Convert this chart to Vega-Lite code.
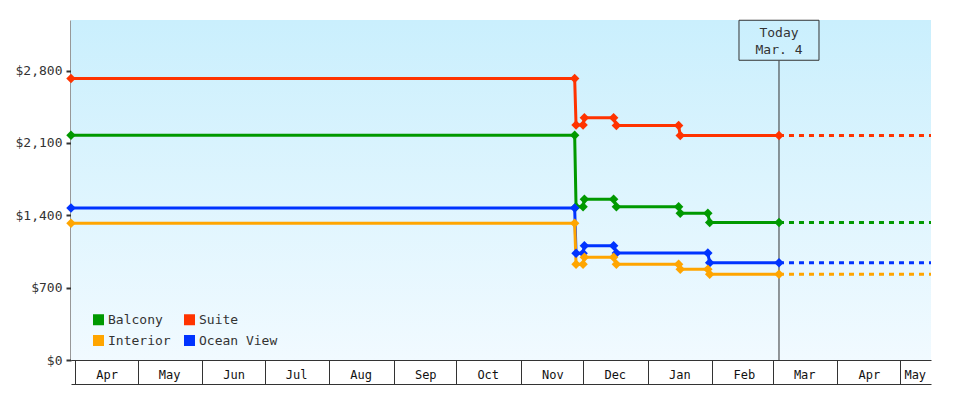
{
  "$schema": "https://vega.github.io/schema/vega-lite/v6.json",
  "width": 860,
  "height": 340,
  "autosize": {"type": "none"},
  "padding": {"left": 71, "top": 20, "right": 49, "bottom": 40},
  "background": "#ffffff",
  "config": {
    "font": "DejaVu Sans Mono",
    "view": {"stroke": null},
    "axis": {"labelFont": "DejaVu Sans Mono", "zindex": 1},
    "legend": {
      "title": null,
      "orient": "none",
      "legendX": 21,
      "legendY": 293,
      "columns": 2,
      "direction": "vertical",
      "symbolType": "square",
      "symbolSize": 121,
      "symbolStrokeWidth": 0,
      "symbolOpacity": 1,
      "labelFontSize": 13,
      "labelFont": "DejaVu Sans Mono",
      "labelColor": "#333333",
      "labelOffset": 3,
      "columnPadding": 12,
      "rowPadding": 7,
      "padding": 0
    }
  },
  "datasets": {
    "prices": [
      {"type": "Suite", "date": "2019-03-30T00:00:00Z", "price": 2725, "part": "actual"},
      {"type": "Suite", "date": "2019-11-26T21:00:00Z", "price": 2725, "part": "actual"},
      {"type": "Suite", "date": "2019-11-27T13:00:00Z", "price": 2274, "part": "actual"},
      {"type": "Suite", "date": "2019-11-30T22:00:00Z", "price": 2274, "part": "actual"},
      {"type": "Suite", "date": "2019-12-01T13:00:00Z", "price": 2345, "part": "actual"},
      {"type": "Suite", "date": "2019-12-15T14:00:00Z", "price": 2345, "part": "actual"},
      {"type": "Suite", "date": "2019-12-16T22:00:00Z", "price": 2270, "part": "actual"},
      {"type": "Suite", "date": "2020-01-15T19:00:00Z", "price": 2270, "part": "actual"},
      {"type": "Suite", "date": "2020-01-16T14:00:00Z", "price": 2172, "part": "actual"},
      {"type": "Suite", "date": "2020-03-04T00:00:00Z", "price": 2172, "part": "actual"},
      {"type": "Suite", "date": "2020-03-04T00:00:00Z", "price": 2172, "part": "projected"},
      {"type": "Suite", "date": "2020-05-16T00:00:00Z", "price": 2172, "part": "projected"},
      {"type": "Balcony", "date": "2019-03-30T00:00:00Z", "price": 2175, "part": "actual"},
      {"type": "Balcony", "date": "2019-11-26T21:00:00Z", "price": 2175, "part": "actual"},
      {"type": "Balcony", "date": "2019-11-27T13:00:00Z", "price": 1483, "part": "actual"},
      {"type": "Balcony", "date": "2019-11-30T22:00:00Z", "price": 1483, "part": "actual"},
      {"type": "Balcony", "date": "2019-12-01T13:00:00Z", "price": 1555, "part": "actual"},
      {"type": "Balcony", "date": "2019-12-15T14:00:00Z", "price": 1555, "part": "actual"},
      {"type": "Balcony", "date": "2019-12-16T22:00:00Z", "price": 1483, "part": "actual"},
      {"type": "Balcony", "date": "2020-01-15T19:00:00Z", "price": 1483, "part": "actual"},
      {"type": "Balcony", "date": "2020-01-16T14:00:00Z", "price": 1419, "part": "actual"},
      {"type": "Balcony", "date": "2020-01-29T20:00:00Z", "price": 1419, "part": "actual"},
      {"type": "Balcony", "date": "2020-01-30T17:00:00Z", "price": 1330, "part": "actual"},
      {"type": "Balcony", "date": "2020-03-04T00:00:00Z", "price": 1330, "part": "actual"},
      {"type": "Balcony", "date": "2020-03-04T00:00:00Z", "price": 1330, "part": "projected"},
      {"type": "Balcony", "date": "2020-05-16T00:00:00Z", "price": 1330, "part": "projected"},
      {"type": "Ocean View", "date": "2019-03-30T00:00:00Z", "price": 1470, "part": "actual"},
      {"type": "Ocean View", "date": "2019-11-26T21:00:00Z", "price": 1470, "part": "actual"},
      {"type": "Ocean View", "date": "2019-11-27T13:00:00Z", "price": 1032, "part": "actual"},
      {"type": "Ocean View", "date": "2019-11-30T22:00:00Z", "price": 1032, "part": "actual"},
      {"type": "Ocean View", "date": "2019-12-01T13:00:00Z", "price": 1106, "part": "actual"},
      {"type": "Ocean View", "date": "2019-12-15T14:00:00Z", "price": 1106, "part": "actual"},
      {"type": "Ocean View", "date": "2019-12-16T22:00:00Z", "price": 1035, "part": "actual"},
      {"type": "Ocean View", "date": "2020-01-29T20:00:00Z", "price": 1035, "part": "actual"},
      {"type": "Ocean View", "date": "2020-01-30T17:00:00Z", "price": 941, "part": "actual"},
      {"type": "Ocean View", "date": "2020-03-04T00:00:00Z", "price": 941, "part": "actual"},
      {"type": "Ocean View", "date": "2020-03-04T00:00:00Z", "price": 941, "part": "projected"},
      {"type": "Ocean View", "date": "2020-05-16T00:00:00Z", "price": 941, "part": "projected"},
      {"type": "Interior", "date": "2019-03-30T00:00:00Z", "price": 1323, "part": "actual"},
      {"type": "Interior", "date": "2019-11-26T21:00:00Z", "price": 1323, "part": "actual"},
      {"type": "Interior", "date": "2019-11-27T13:00:00Z", "price": 926, "part": "actual"},
      {"type": "Interior", "date": "2019-11-30T22:00:00Z", "price": 926, "part": "actual"},
      {"type": "Interior", "date": "2019-12-01T13:00:00Z", "price": 994, "part": "actual"},
      {"type": "Interior", "date": "2019-12-15T14:00:00Z", "price": 994, "part": "actual"},
      {"type": "Interior", "date": "2019-12-16T22:00:00Z", "price": 926, "part": "actual"},
      {"type": "Interior", "date": "2020-01-15T19:00:00Z", "price": 926, "part": "actual"},
      {"type": "Interior", "date": "2020-01-16T14:00:00Z", "price": 878, "part": "actual"},
      {"type": "Interior", "date": "2020-01-29T20:00:00Z", "price": 878, "part": "actual"},
      {"type": "Interior", "date": "2020-01-30T17:00:00Z", "price": 829, "part": "actual"},
      {"type": "Interior", "date": "2020-03-04T00:00:00Z", "price": 829, "part": "actual"},
      {"type": "Interior", "date": "2020-03-04T00:00:00Z", "price": 829, "part": "projected"},
      {"type": "Interior", "date": "2020-05-16T00:00:00Z", "price": 829, "part": "projected"}
    ],
    "today": [
      {"date": "2020-03-04T00:00:00Z", "label": "Today\nMar. 4"}
    ]
  },
  "resolve": {"axis": {"x": "independent"}},
  "layer": [
    {
      "data": {"values": [{"bg": 1}]},
      "mark": {
        "type": "rect",
        "fill": {
          "gradient": "linear", "x1": 0, "y1": 0, "x2": 0, "y2": 1,
          "stops": [{"offset": 0, "color": "#caeffd"}, {"offset": 1, "color": "#f1faff"}]
        }
      },
      "encoding": {
        "x": {"datum": {"year": 2019, "month": "mar", "date": 30, "utc": true}, "type": "temporal", "axis": null},
        "x2": {"datum": {"year": 2020, "month": "may", "date": 16, "utc": true}},
        "y": {"datum": 0, "type": "quantitative", "title": null},
        "y2": {"datum": 3290}
      }
    },
    {
      "data": {"name": "today"},
      "mark": {"type": "rule", "color": "#333333", "strokeWidth": 1},
      "encoding": {
        "x": {"field": "date", "type": "temporal", "axis": null},
        "y": {"datum": 0, "type": "quantitative", "title": null},
        "y2": {"datum": 2896}
      }
    },
    {
      "data": {"name": "today"},
      "mark": {"type": "point", "shape": "M-1,-0.5L1,-0.5L1,0.5L-1,0.5Z", "size": 6400, "filled": false, "color": "#333333", "strokeWidth": 1, "opacity": 1},
      "encoding": {
        "x": {"field": "date", "type": "temporal", "axis": null},
        "y": {"datum": 3094, "type": "quantitative", "title": null}
      }
    },
    {
      "data": {"name": "today"},
      "mark": {"type": "text", "lineBreak": "\n", "fontSize": 13, "lineHeight": 17, "color": "#333333", "baseline": "middle", "align": "center", "dy": -7.5, "font": "DejaVu Sans Mono"},
      "encoding": {
        "x": {"field": "date", "type": "temporal", "axis": null},
        "y": {"datum": 3094, "type": "quantitative", "title": null},
        "text": {"field": "label"}
      }
    },
    {
      "data": {"name": "prices"},
      "transform": [{"filter": "datum.part == 'actual'"}],
      "mark": {"type": "line", "strokeWidth": 3, "interpolate": "linear"},
      "encoding": {
        "x": {
          "field": "date", "type": "temporal",
          "scale": {"type": "utc", "domain": [{"year": 2019, "month": "mar", "date": 30, "utc": true}, {"year": 2020, "month": "may", "date": 16, "utc": true}]},
          "axis": {
            "orient": "bottom",
            "title": null,
            "grid": false,
            "values": [
              {"year": 2019, "month": "apr", "date": 1, "utc": true},
              {"year": 2019, "month": "may", "date": 1, "utc": true},
              {"year": 2019, "month": "jun", "date": 1, "utc": true},
              {"year": 2019, "month": "jul", "date": 1, "utc": true},
              {"year": 2019, "month": "aug", "date": 1, "utc": true},
              {"year": 2019, "month": "sep", "date": 1, "utc": true},
              {"year": 2019, "month": "oct", "date": 1, "utc": true},
              {"year": 2019, "month": "nov", "date": 1, "utc": true},
              {"year": 2019, "month": "dec", "date": 1, "utc": true},
              {"year": 2020, "month": "jan", "date": 1, "utc": true},
              {"year": 2020, "month": "feb", "date": 1, "utc": true},
              {"year": 2020, "month": "mar", "date": 1, "utc": true},
              {"year": 2020, "month": "apr", "date": 1, "utc": true},
              {"year": 2020, "month": "may", "date": 1, "utc": true}
            ],
            "format": "%b",
            "tickSize": 24,
            "tickWidth": 1,
            "tickColor": "#333333",
            "domainColor": "#333333",
            "domainWidth": 1,
            "labelAlign": "center",
            "labelBaseline": "middle",
            "labelPadding": -10,
            "labelOffset": {"condition": {"test": "utcmonth(datum.value) == 4 && utcyear(datum.value) == 2020", "value": 15}, "value": 31.5},
            "labelFontSize": 12,
            "labelColor": "#111111",
            "labelOverlap": false,
            "labelFlush": false,
            "labelBound": false
          }
        },
        "y": {
          "field": "price", "type": "quantitative",
          "scale": {"domain": [0, 3290], "nice": false, "zero": true},
          "axis": {
            "title": null,
            "grid": false,
            "values": [0, 700, 1400, 2100, 2800],
            "format": "$,d",
            "tickSize": 5,
            "tickWidth": 2,
            "tickColor": "#333333",
            "domainColor": "#333333",
            "domainWidth": 2,
            "labelPadding": 4,
            "labelFontSize": 13,
            "labelColor": "#333333"
          }
        },
        "color": {
          "field": "type", "type": "nominal",
          "scale": {"domain": ["Balcony", "Interior", "Suite", "Ocean View"], "range": ["#009900", "#ffa500", "#ff3300", "#0033ff"]},
          "legend": {
            "encode": {"symbols": {"update": {"fill": {"scale": "color", "field": "value"}, "stroke": {"value": "transparent"}, "strokeWidth": {"value": 0}, "opacity": {"value": 1}}}}
          }
        }
      }
    },
    {
      "data": {"name": "prices"},
      "transform": [{"filter": "datum.part == 'projected'"}],
      "mark": {"type": "line", "strokeWidth": 3, "strokeDash": [5, 5]},
      "encoding": {
        "x": {"field": "date", "type": "temporal", "axis": null},
        "y": {"field": "price", "type": "quantitative", "title": null},
        "color": {"field": "type", "type": "nominal"}
      }
    },
    {
      "data": {"name": "prices"},
      "transform": [{"filter": "datum.part == 'actual'"}],
      "mark": {"type": "point", "shape": "diamond", "filled": true, "size": 90, "opacity": 1},
      "encoding": {
        "x": {
          "field": "date", "type": "temporal",
          "axis": {"orient": "bottom", "offset": 24, "domain": true, "ticks": false, "labels": false, "grid": false, "title": null, "domainColor": "#333333", "domainWidth": 1}
        },
        "y": {"field": "price", "type": "quantitative", "title": null},
        "color": {"field": "type", "type": "nominal"}
      }
    }
  ]
}
